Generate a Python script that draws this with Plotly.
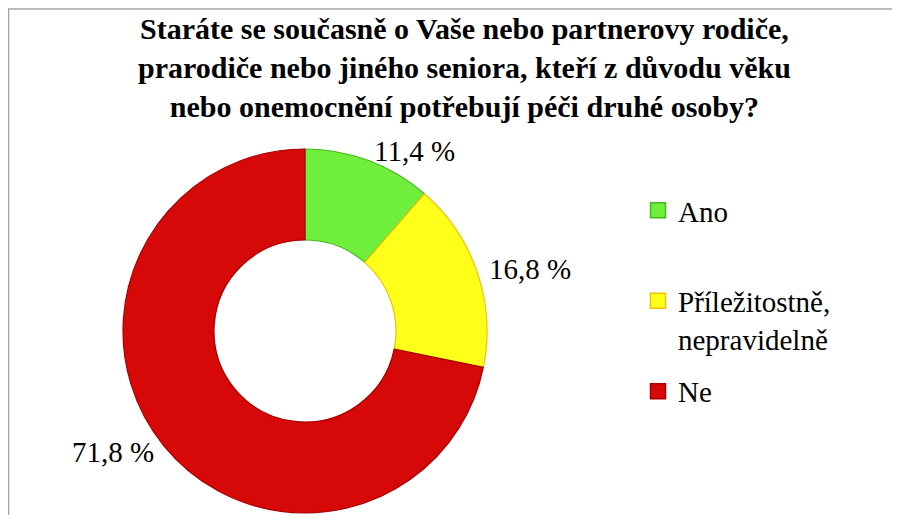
import math
import plotly.graph_objects as go

categories = ["Ano", "Příležitostně,<br>nepravidelně", "Ne"]
legend_names = ["Ano<br> ", "Příležitostně,<br>nepravidelně", "Ne"]
values = [11.4, 16.8, 71.8]
value_labels = ["11,4 %", "16,8 %", "71,8 %"]
title_lines = ["Staráte se současně o Vaše nebo partnerovy rodiče,",
               "prarodiče nebo jiného seniora, kteří z důvodu věku",
               "nebo onemocnění potřebují péči druhé osoby?"]

W, H = 900, 515
FONT = "Liberation Serif"
FS = 29
FS_TITLE = 30
fill_colors = ["#70ee3c", "#ffff1a", "#d60808"]
line_colors = ["#44b81e", "#f2c200", "#a80000"]

# pie placement (figure pixels)
cx, cy, R = 297, 323, 182
dom_x = [(cx - R) / W, (cx + R) / W]
dom_y = [(H - cy - R) / H, (H - cy + R) / H]

fig = go.Figure(go.Pie(
    labels=categories,
    values=values,
    hole=0.5,
    sort=False,
    direction="clockwise",
    rotation=0,
    textinfo="none",
    hoverinfo="label+percent",
    showlegend=False,
    marker=dict(colors=fill_colors, line=dict(color=line_colors, width=1.2)),
    domain=dict(x=dom_x, y=dom_y),
))

# legend entries (one per category)
for i, (nm, fc, lc) in enumerate(zip(legend_names, fill_colors, line_colors)):
    fig.add_trace(go.Scatter(
        x=[None], y=[None], mode="markers", name=nm,
        legendgroup=f"g{i}",
        marker=dict(symbol="square", size=15, color=fc, line=dict(color=lc, width=1.5)),
        hoverinfo="skip",
    ))

# data labels placed at the mid-angle of each slice, just outside the ring
total = sum(values)
cum = 0.0
annotations = []
for v, lab in zip(values, value_labels):
    mid = (cum + v / 2) / total * 2 * math.pi
    cum += v
    r = R + 10
    px = cx + r * math.sin(mid)
    py = cy - r * math.cos(mid)
    annotations.append(dict(
        x=px / W, y=(H - py) / H, xref="paper", yref="paper",
        text=lab, showarrow=False,
        xanchor="left" if math.sin(mid) >= 0 else "right",
        yanchor="middle",
        font=dict(family=FONT, size=FS, color="#000000"),
    ))

# title (one multi-line text block)
annotations.append(dict(
    x=456 / W, y=(H - 60) / H, xref="paper", yref="paper",
    text="<b>" + "<br>".join(title_lines) + "</b>", showarrow=False,
    xanchor="center", yanchor="middle", align="center",
    font=dict(family=FONT, size=FS_TITLE, color="#000000"),
))

fig.update_layout(
    width=W, height=H,
    margin=dict(l=0, r=0, t=0, b=0),
    font=dict(family=FONT, size=FS, color="#000000"),
    paper_bgcolor="#ffffff",
    plot_bgcolor="#ffffff",
    xaxis=dict(visible=False),
    yaxis=dict(visible=False),
    showlegend=True,
    legend=dict(
        x=630 / W, y=1 - 177 / H, xanchor="left", yanchor="top",
        font=dict(family=FONT, size=FS, color="#000000"),
        itemsizing="trace",
        valign="top",
        tracegroupgap=12,
        bgcolor="rgba(0,0,0,0)",
    ),
    annotations=annotations,
    shapes=[dict(
        type="rect", xref="paper", yref="paper",
        x0=0.6 / W, x1=1.05, y0=-0.05, y1=1 - 1 / H,
        line=dict(color="#a6a6a6", width=1.5),
        fillcolor="rgba(0,0,0,0)",
    )],
)

fig.write_html("out.html")
